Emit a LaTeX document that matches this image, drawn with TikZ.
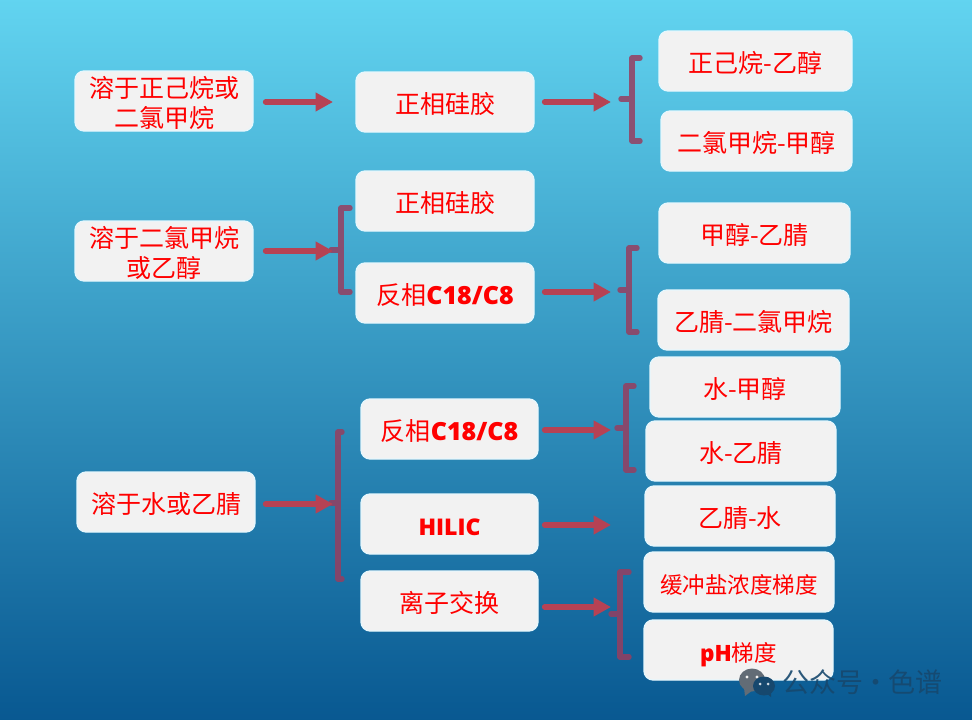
\documentclass[tikz,border=0pt]{standalone}
\usepackage{fontspec}
\setmainfont{Noto Sans CJK SC}
\newfontfamily\latinbold{Open Sans Bold}
\usetikzlibrary{arrows.meta}
\definecolor{bgtop}{RGB}{98,212,240}
\definecolor{bgmid}{RGB}{50,145,190}
\definecolor{bgbot}{RGB}{8,88,145}
\definecolor{arrowred}{RGB}{182,66,84}
\definecolor{bracketred}{RGB}{150,62,96}
\definecolor{boxfill}{RGB}{242,242,242}
\definecolor{labelred}{RGB}{255,0,0}
\definecolor{markdark}{RGB}{22,72,110}
\definecolor{markgray}{RGB}{98,108,118}
\newcommand{\lb}[1]{{\latinbold\bfseries #1}}
\tikzset{
  boxnode/.style={draw=white!90!cyan,line width=1.3pt,fill=boxfill,rounded corners=9pt,
    text=labelred,inner sep=0pt,font=\fontsize{25}{28.5}\selectfont},
  smallnode/.style={boxnode,font=\fontsize{22.5}{26}\selectfont},
  flowarrow/.style={draw=arrowred,line width=5.6pt,line cap=round,
    -{Triangle[length=17.5pt,width=18pt,fill=arrowred]}},
  bracketline/.style={draw=bracketred,line width=5.4pt,line cap=round,line join=round,draw opacity=.85},
  marktext/.style={text=markdark,text opacity=.9,font=\fontsize{27}{30}\selectfont,inner sep=0pt}
}
\newcommand{\boxat}[7][boxnode]{% style, name, x1,y1,x2,y2, text
  \node[#1,minimum width=#5pt-#3pt,minimum height=#6pt-#4pt] (#2) at ({(#3+#5)/2},{(#4+#6)/2})
    {\raisebox{-5.5pt}[\height][\depth]{\begin{tabular}{@{}c@{}}#7\end{tabular}}};}
\begin{document}
\begin{tikzpicture}[x=1pt,y=-1pt]
\useasboundingbox (0,0) rectangle (972,720);
\shade[shading angle=-7,top color=bgtop,middle color=bgmid,bottom color=bgbot] (-2,-2) rectangle (974,722);

% boxes
\boxat{a1}{75}{71}{253}{131}{溶于正己烷或\\二氯甲烷}
\boxat{b1}{356}{72}{534}{132}{正相硅胶}
\boxat{c1}{659}{31}{852}{91}{正己烷-乙醇}
\boxat{c2}{661}{111}{852}{171}{二氯甲烷-甲醇}
\boxat{a2}{75}{221}{253}{281}{溶于二氯甲烷\\或乙醇}
\boxat{b2}{356}{171}{534}{231}{正相硅胶}
\boxat{b3}{356}{263}{534}{323}{反相\lb{C18/C8}}
\boxat{c3}{659}{203}{850}{263}{甲醇-乙腈}
\boxat{c4}{658}{290}{849}{350}{乙腈-二氯甲烷}
\boxat{c5}{650}{357}{840}{417}{水-甲醇}
\boxat{c6}{646}{421}{836}{481}{水-乙腈}
\boxat{c7}{645}{486}{835}{546}{乙腈-水}
\boxat[smallnode]{c8}{644}{552}{834}{612}{缓冲盐浓度梯度}
\boxat[smallnode]{c9}{644}{620}{833}{680}{\lb{pH}梯度}
\boxat{b4}{361}{399}{538}{459}{反相\lb{C18/C8}}
\boxat{b5}{361}{494}{538}{554}{{\fontsize{23}{28}\selectfont\lb{HILIC}}}
\boxat{b6}{361}{571}{538}{631}{离子交换}
\boxat{a3}{77}{472}{255}{532}{溶于水或乙腈}

% bracket anchor points and free arrow ends
\coordinate (k1) at (621,99);  \coordinate (k2) at (331,250);
\coordinate (k3) at (620,290); \coordinate (k4) at (617,428);
\coordinate (k5) at (331,503); \coordinate (k6) at (611,614);
\coordinate (e1) at (611,102); \coordinate (e2) at (333,251);
\coordinate (e3) at (611,292); \coordinate (e4) at (333,504);
\coordinate (e5) at (611,430); \coordinate (e6) at (611,525);
\coordinate (e7) at (611,607); \coordinate (e8) at (333,102);

% brackets
\draw[bracketline] (640,58) -- (632,58) -- (632,141) -- (640,141) (632,99) -- (k1);
\draw[bracketline] (350,208) -- (341,208) -- (341,292) -- (350,292) (341,250) -- (k2);
\draw[bracketline] (637,248) -- (629,248) -- (629,332) -- (637,332) (629,290) -- (k3);
\draw[bracketline] (634,386) -- (626,386) -- (626,470) -- (634,470) (626,428) -- (k4);
\draw[bracketline] (342,432) -- (338,432) -- (338,579) -- (342,579) (338,503) -- (k5);
\draw[bracketline] (629,572) -- (620,572) -- (620,657) -- (629,657) (620,614) -- (k6);

% arrows
\draw[flowarrow] ([xshift=12pt]a1.east |- e8) -- (e8);
\draw[flowarrow] ([xshift=10pt]b1.east |- e1) -- (e1);
\draw[flowarrow] ([xshift=12pt]a2.east |- e2) -- (e2);
\draw[flowarrow] ([xshift=10pt]b3.east |- e3) -- (e3);
\draw[flowarrow] ([xshift=10pt]a3.east |- e4) -- (e4);
\draw[flowarrow] ([xshift=6pt]b4.east |- e5) -- (e5);
\draw[flowarrow] ([xshift=6pt]b5.east |- e6) -- (e6);
\draw[flowarrow] ([xshift=6pt]b6.east |- e7) -- (e7);

% watermark
\fill[markgray] (752,680) ellipse (13pt and 11.5pt);
\fill[markgray] (744,688) -- (745,696) -- (753,690) -- cycle;
\fill[boxfill] (747,677) circle (1.7pt) (757,677) circle (1.7pt);
\fill[markdark] (764,686) ellipse (11pt and 9.5pt);
\fill[markdark] (766,693) -- (771,697) -- (771,691) -- cycle;
\fill[white!80!markdark] (760,684) circle (1.5pt) (768,684) circle (1.5pt);
\node[marktext,anchor=west] (wm) at (782,682) {公众号\makebox[25pt]{·}色谱};
\end{tikzpicture}
\end{document}
